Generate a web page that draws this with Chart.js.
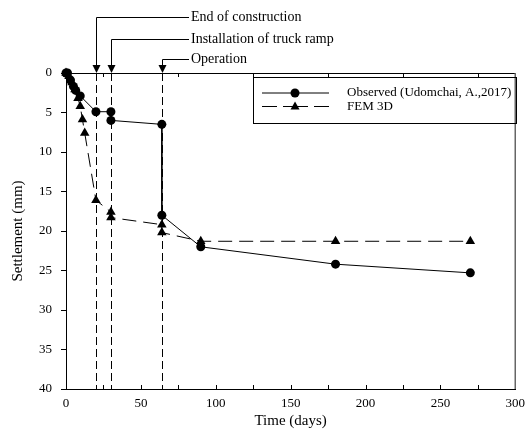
<!DOCTYPE html>
<html>
<head>
<meta charset="utf-8">
<script src="https://cdn.jsdelivr.net/npm/chart.js@4/dist/chart.umd.min.js"></script>
<style>
  body { margin: 0; background: #fff; }
</style>
</head>
<body>
<canvas id="settlementChart" width="532" height="430"></canvas>
<script>
// observed settlement (Udomchai, A., 2017)
var obsDays   = [0, 1, 3, 5, 6.5, 9.5, 20, 30, 30, 64, 64, 90, 180, 270];
var obsSettle = [0, 0, 0.9, 1.7, 2.2, 2.9, 4.9, 4.9, 6.0, 6.5, 18.0, 22.0, 24.2, 25.3];

// FEM 3D results
var femDays   = [0, 2, 4, 6, 8, 9.5, 11, 12.5, 20, 30, 30, 64, 64, 90, 180, 270];
var femSettle = [0, 0.4, 1.2, 2.1, 3.2, 4.2, 5.9, 7.6, 16.1, 17.6, 18.3, 19.2, 20.2, 21.3, 21.3, 21.3];

// stage markers
var stageDays   = [20, 30, 64];
var stageLabels = ['End of construction', 'Installation of truck ramp', 'Operation'];

var xTicks = [0, 50, 100, 150, 200, 250, 300];
var yTicks = [0, 5, 10, 15, 20, 25, 30, 35, 40];

var serif = '"Liberation Serif", "Times New Roman", serif';

function toPoints(xs, ys) {
    var pts = [];
    xs.forEach(function (x, i) { pts.push({ x: x, y: ys[i] }); });
    return pts;
}

var extrasPlugin = {
    id: 'extras',
    beforeDatasetsDraw: function (chart) {
        var ctx = chart.ctx, area = chart.chartArea, xs = chart.scales.x;
        ctx.save();
        ctx.strokeStyle = '#000';
        ctx.lineWidth = 1;
        ctx.setLineDash([8, 4]);
        stageDays.forEach(function (d) {
            var px = Math.round(xs.getPixelForValue(d)) + 0.5;
            ctx.beginPath();
            ctx.moveTo(px, area.top);
            ctx.lineTo(px, area.bottom);
            ctx.stroke();
        });
        ctx.restore();
    },
    afterDraw: function (chart) {
        var ctx = chart.ctx, area = chart.chartArea, xs = chart.scales.x;
        ctx.save();

        // frame: top and right
        ctx.strokeStyle = '#000';
        ctx.lineWidth = 1;
        ctx.beginPath();
        ctx.moveTo(area.left, area.top + 0.5);
        ctx.lineTo(area.right, area.top + 0.5);
        ctx.stroke();
        ctx.strokeStyle = '#666';
        ctx.lineWidth = 1.5;
        ctx.beginPath();
        ctx.moveTo(area.right, area.top);
        ctx.lineTo(area.right, area.bottom);
        ctx.stroke();

        // inside ticks on bottom, minor ticks on top
        ctx.strokeStyle = '#000';
        ctx.lineWidth = 1;
        for (var v = 25; v < 300; v += 25) {
            var px = Math.round(xs.getPixelForValue(v)) + 0.5;
            ctx.beginPath();
            ctx.moveTo(px, area.bottom);
            ctx.lineTo(px, area.bottom - 4);
            ctx.stroke();
            if (v % 50 !== 0) {
                ctx.beginPath();
                ctx.moveTo(px, area.top);
                ctx.lineTo(px, area.top + 4);
                ctx.stroke();
            }
        }

        // stage annotations with arrows
        var rows = [17, 39, 59];
        ctx.font = '14px ' + serif;
        ctx.fillStyle = '#000';
        ctx.textBaseline = 'middle';
        stageDays.forEach(function (d, i) {
            var px = Math.round(xs.getPixelForValue(d)) + 0.5;
            var y = rows[i] + 0.5;
            ctx.beginPath();
            ctx.moveTo(189, y);
            ctx.lineTo(px, y);
            ctx.lineTo(px, area.top - 6);
            ctx.stroke();
            ctx.beginPath();
            ctx.moveTo(px - 4, area.top - 8);
            ctx.lineTo(px + 4, area.top - 8);
            ctx.lineTo(px, area.top);
            ctx.closePath();
            ctx.fill();
            ctx.fillText(stageLabels[i], 191, rows[i]);
        });

        // legend box
        var bx = 253, by = 77, bw = 263, bh = 46;
        ctx.lineWidth = 1;
        ctx.strokeRect(bx + 0.5, by + 0.5, bw, bh);
        ctx.font = '13px ' + serif;
        chart.data.datasets.forEach(function (ds, i) {
            var ly = by + 16 + i * 13.5;
            ctx.setLineDash([]);
            ctx.beginPath();
            if (ds.borderDash) {
                ctx.moveTo(262, ly); ctx.lineTo(277, ly);
                ctx.moveTo(283, ly); ctx.lineTo(308, ly);
                ctx.moveTo(314, ly); ctx.lineTo(329, ly);
            } else {
                ctx.moveTo(262, ly); ctx.lineTo(329, ly);
            }
            ctx.stroke();
            if (ds.pointStyle === 'triangle') {
                ctx.beginPath();
                ctx.moveTo(295, ly - 5);
                ctx.lineTo(299.5, ly + 3);
                ctx.lineTo(290.5, ly + 3);
                ctx.closePath();
                ctx.fill();
            } else {
                ctx.beginPath();
                ctx.arc(295, ly, 4.5, 0, Math.PI * 2);
                ctx.fill();
            }
            ctx.fillText(ds.label, 347, ly);
        });

        ctx.restore();
    }
};

new Chart(document.getElementById('settlementChart'), {
    type: 'line',
    data: {
        datasets: [{
            label: 'Observed (Udomchai, A.,2017)',
            data: toPoints(obsDays, obsSettle),
            borderColor: '#000',
            backgroundColor: '#000',
            borderWidth: 1,
            pointStyle: 'circle',
            pointRadius: 4.5,
            pointBorderWidth: 0
        }, {
            label: 'FEM 3D',
            data: toPoints(femDays, femSettle),
            borderColor: '#000',
            backgroundColor: '#000',
            borderWidth: 1,
            borderDash: [14, 7],
            pointStyle: 'triangle',
            pointRadius: 5.5,
            pointBorderWidth: 0
        }]
    },
    options: {
        responsive: false,
        animation: false,
        clip: false,
        layout: { padding: { left: 0, top: 73, right: 14, bottom: 0 } },
        plugins: {
            legend: { display: false },
            tooltip: { enabled: false }
        },
        scales: {
            x: {
                type: 'linear',
                min: 0,
                max: 300,
                afterFit: function (scale) { scale.height = 41; },
                afterBuildTicks: function (scale) {
                    scale.ticks = xTicks.map(function (v) { return { value: v }; });
                },
                grid: { display: false, drawTicks: false },
                border: { display: true, color: '#000', width: 1 },
                ticks: {
                    color: '#000',
                    padding: 7,
                    maxRotation: 0,
                    font: { family: serif, size: 13 }
                },
                title: {
                    display: true,
                    text: 'Time (days)',
                    color: '#000',
                    padding: { top: 0, bottom: 0 },
                    font: { family: serif, size: 15 }
                }
            },
            y: {
                type: 'linear',
                reverse: true,
                min: 0,
                max: 40,
                afterFit: function (scale) { scale.width = 66; },
                afterBuildTicks: function (scale) {
                    scale.ticks = yTicks.map(function (v) { return { value: v }; });
                },
                grid: {
                    display: true,
                    drawOnChartArea: false,
                    drawTicks: true,
                    tickLength: 5,
                    color: '#000'
                },
                border: { display: true, color: '#000', width: 1 },
                ticks: {
                    color: '#000',
                    padding: 9,
                    font: { family: serif, size: 13 }
                },
                title: {
                    display: true,
                    text: 'Settlement (mm)',
                    color: '#000',
                    padding: { top: 9, bottom: 0 },
                    font: { family: serif, size: 15 }
                }
            }
        }
    },
    plugins: [extrasPlugin]
});
</script>
</body>
</html>
